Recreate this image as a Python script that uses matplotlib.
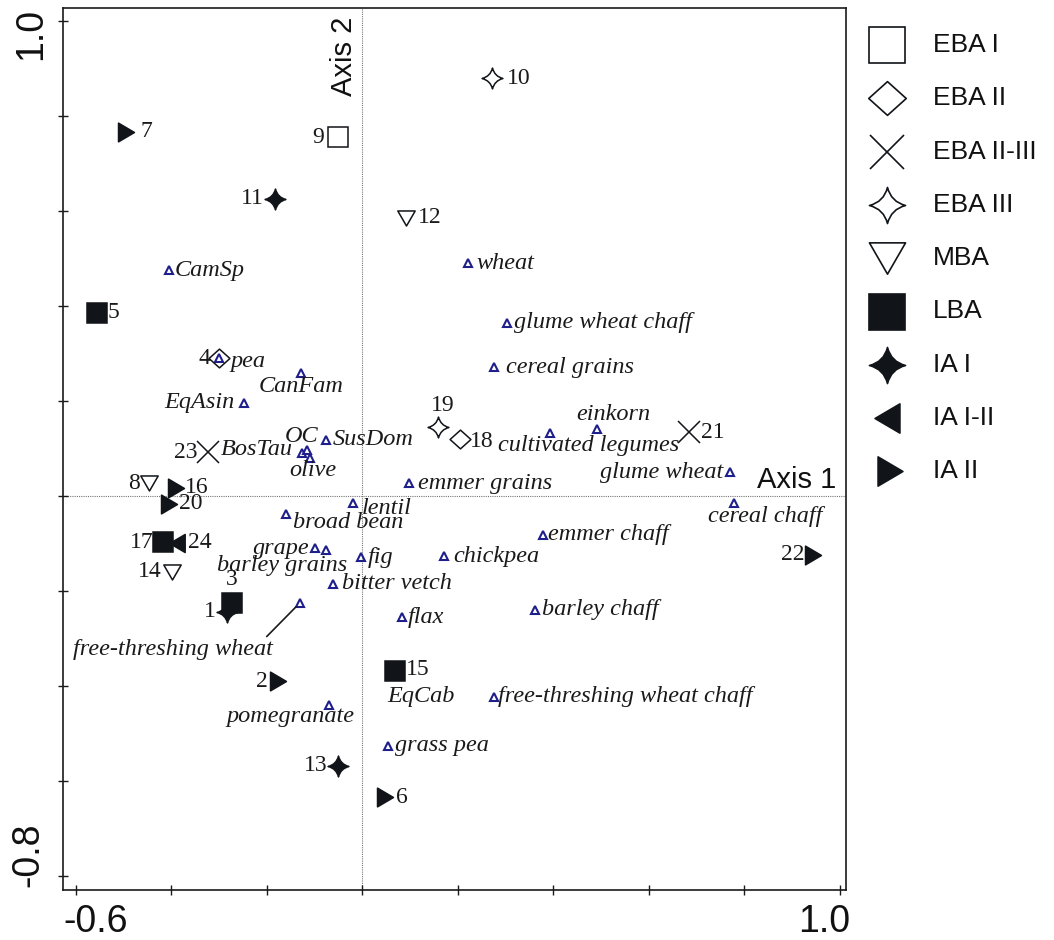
import numpy as np
import matplotlib
matplotlib.use("Agg")
import matplotlib.pyplot as plt
from matplotlib.path import Path

# ---------------- data ----------------
site_ids = [str(i) for i in range(1, 25)]
site_x = [-0.284, -0.177, -0.273, -0.300, -0.556, 0.047, -0.495, -0.447, -0.051, 0.271,
          -0.183, 0.091, -0.051, -0.399, 0.068, -0.391, -0.418, 0.204, 0.158, -0.405,
          0.684, 0.943, -0.324, -0.388]
site_y = [-0.244, -0.390, -0.225, 0.290, 0.385, -0.634, 0.766, 0.027, 0.755, 0.879,
          0.625, 0.585, -0.568, -0.160, -0.368, 0.017, -0.097, 0.120, 0.145, -0.017,
          0.134, -0.124, 0.092, -0.099]
site_period = ["IA I", "IA II", "LBA", "EBA II", "LBA", "IA II", "IA II", "MBA", "EBA I", "EBA III",
               "IA I", "MBA", "IA I", "MBA", "LBA", "IA II", "LBA", "EBA II", "EBA III", "IA II",
               "EBA II-III", "IA II", "EBA II-III", "IA I-II"]

periods = ["EBA I", "EBA II", "EBA II-III", "EBA III", "MBA", "LBA", "IA I", "IA I-II", "IA II"]

species = ["CamSp", "pea", "CanFam", "EqAsin", "SusDom", "BosTau", "OC", "olive", "wheat",
           "glume wheat chaff", "cereal grains", "cultivated legumes", "einkorn", "emmer grains",
           "glume wheat", "lentil", "cereal chaff", "broad bean", "emmer chaff", "grape",
           "barley grains", "fig", "chickpea", "bitter vetch", "flax", "barley chaff",
           "free-threshing wheat", "EqCab", "pomegranate", "free-threshing wheat chaff", "grass pea"]
species_x = [-0.405, -0.300, -0.129, -0.248, -0.076, -0.127, -0.116, -0.110, 0.221,
             0.303, 0.275, 0.393, 0.491, 0.097,
             0.770, -0.020, 0.778, -0.160, 0.378, -0.100,
             -0.076, -0.003, 0.171, -0.062, 0.083, 0.361,
             -0.131, 0.068, -0.070, 0.275, 0.053]
species_y = [0.475, 0.290, 0.259, 0.196, 0.118, 0.090, 0.097, 0.080, 0.490,
             0.364, 0.271, 0.132, 0.141, 0.027,
             0.050, -0.015, -0.015, -0.038, -0.082, -0.110,
             -0.114, -0.129, -0.127, -0.185, -0.255, -0.240,
             -0.225, -0.368, -0.440, -0.423, -0.526]

x_tick_values = [-0.6, -0.4, -0.2, 0.0, 0.2, 0.4, 0.6, 0.8, 1.0]
y_tick_values = [-0.8, -0.6, -0.4, -0.2, 0.0, 0.2, 0.4, 0.6, 0.8, 1.0]
x_end_labels = ["-0.6", "1.0"]
y_end_labels = ["-0.8", "1.0"]

# ---------------- styles / layout ----------------
DARK = "#111418"
NAVY = "#1f1f8c"
SERIF = ["Liberation Serif", "DejaVu Serif"]
SANS = ["Liberation Sans", "DejaVu Sans"]
DPI = 100


def star_path(c=0.2):
    v = [(0, 1), (c, c), (1, 0), (c, -c), (0, -1), (-c, -c), (-1, 0), (-c, c), (0, 1), (0, 1)]
    codes = [Path.MOVETO] + [Path.CURVE3] * 8 + [Path.CLOSEPOLY]
    return Path(v, codes)


STAR = star_path()
TRI_DOWN = Path([(-1, 0.866), (1, 0.866), (0, -0.866), (-1, 0.866)], closed=True)
TRI_RIGHT = Path([(-0.85, -1), (-0.85, 1), (0.85, 0), (-0.85, -1)], closed=True)
TRI_LEFT = Path([(0.85, -1), (0.85, 1), (-0.85, 0), (0.85, -1)], closed=True)
DIAMOND = Path([(0, 0.9), (1, 0), (0, -0.9), (-1, 0), (0, 0.9)], closed=True)

# marker, filled, plot size, legend size
style = {
    "EBA I": ("s", False, 14.0, 26),
    "EBA II": (DIAMOND, False, 15.0, 27),
    "EBA II-III": ("x", False, 15.5, 25),
    "EBA III": (STAR, False, 15.0, 26),
    "MBA": (TRI_DOWN, False, 12.5, 26),
    "LBA": ("s", True, 15.0, 26),
    "IA I": (STAR, True, 15.0, 26),
    "IA I-II": (TRI_LEFT, True, 13.0, 21),
    "IA II": (TRI_RIGHT, True, 13.5, 21),
}

# site number label offsets in pixels (dx, dy up)
site_lab_off = {
    "1": (-17, 0), "2": (-16, 0), "3": (0, 23), "4": (-15, 0), "5": (16, 0), "6": (17, 0),
    "7": (20, 0), "8": (-15, 0), "9": (-20, 0), "10": (27, 0), "11": (-23, 0), "12": (24, 0),
    "13": (-22, 0), "14": (-22, 0), "15": (23, 1), "16": (21, 0), "17": (-21, 0), "18": (22, -3),
    "19": (5, 22), "20": (22, 0), "21": (24, 0), "22": (-20, 0), "23": (-22, 0), "24": (23, 0),
}

# species label placement: (dx, dy up) in pixels, ha
sp_lab = {
    "CamSp": (6, 0, "left"), "pea": (11, -3, "left"), "CanFam": (0, -14, "center"),
    "EqAsin": (-10, 0, "right"), "SusDom": (7, 0, "left"), "BosTau": (-9, 4, "right"),
    "OC": (-6, 13, "center"), "olive": (3, -13, "center"), "wheat": (8, 0, "left"),
    "glume wheat chaff": (7, 0, "left"), "cereal grains": (12, 0, "left"),
    "cultivated legumes": (38, -12, "center"), "einkorn": (16, 14, "center"),
    "emmer grains": (9, 0, "left"), "glume wheat": (-7, 0, "right"), "lentil": (9, -5, "left"),
    "cereal chaff": (31, -13, "center"), "broad bean": (7, -9, "left"), "emmer chaff": (5, 0, "left"),
    "grape": (-5, 0, "right"), "barley grains": (-44, -15, "center"), "fig": (7, 0, "left"),
    "chickpea": (9, 0, "left"), "bitter vetch": (9, 0, "left"), "flax": (6, 0, "left"),
    "barley chaff": (7, 0, "left"), "free-threshing wheat": (-127, -47, "center"),
    "EqCab": (-8, -26, "left"), "pomegranate": (-39, -11, "center"),
    "free-threshing wheat chaff": (4, 0, "left"), "grass pea": (7, 0, "left"),
}

px2pt = 72.0 / DPI

fig = plt.figure(figsize=(10.54, 9.40), dpi=DPI)
fig.patch.set_facecolor("white")
ax = fig.add_axes([63 / 1054, 50 / 940, 783 / 1054, 881.7 / 940])
ax.set_xlim(-0.6272, 1.0126)
ax.set_ylim(-0.8293, 1.0261)

for s in ax.spines.values():
    s.set_linewidth(1.2)
    s.set_color("#1a1a1a")
ax.set_xticks(x_tick_values)
ax.set_yticks(y_tick_values)
ax.set_xticklabels([])
ax.set_yticklabels([])
ax.tick_params(direction="inout", length=7, width=1.0, color="#1a1a1a")

# dotted origin lines
ax.axhline(0, color="#777777", lw=0.8, ls=(0, (1, 1)), zorder=1)
ax.axvline(0, color="#777777", lw=0.8, ls=(0, (1, 1)), zorder=1)

# species points
ax.plot(species_x, species_y, ls="none", marker="^", ms=6, mfc="none", mec=NAVY, mew=1.5, zorder=3)
for name, x, y in zip(species, species_x, species_y):
    dx, dy, ha = sp_lab[name]
    kw = dict(xy=(x, y), xytext=(dx * px2pt, dy * px2pt), textcoords="offset points",
              ha=ha, va="center", fontsize=17.5, style="italic", family=SERIF, color="#1a1a1a",
              zorder=5)
    if name == "free-threshing wheat":
        kw["arrowprops"] = dict(arrowstyle="-", color="#1a1a1a", lw=1.2, relpos=(0.94, 0.85),
                                shrinkA=0, shrinkB=4)
    ax.annotate(name, **kw)

# site points
for sid, x, y, per in zip(site_ids, site_x, site_y, site_period):
    m, filled, ms, _ = style[per]
    ax.plot([x], [y], ls="none", marker=m, ms=ms,
            mfc=DARK if filled else "none", mec=DARK, mew=1.1, zorder=4)
    dx, dy = site_lab_off[sid]
    ax.annotate(sid, xy=(x, y), xytext=(dx * px2pt, dy * px2pt), textcoords="offset points",
                ha="center", va="center", fontsize=17, family=SERIF, color="#1a1a1a", zorder=5)

# axis names
ax.text(-0.039, 0.926, "Axis 2", rotation=90, ha="center", va="center", fontsize=21,
        family=SANS, color="#111111")
ax.text(0.910, 0.033, "Axis 1", ha="center", va="center", fontsize=21, family=SANS, color="#111111")

# end tick labels
ax.text(0.0421, -0.036, x_end_labels[0], transform=ax.transAxes, ha="center", va="center",
        fontsize=27, family=SANS, color="#111111")
ax.text(0.972, -0.036, x_end_labels[1], transform=ax.transAxes, ha="center", va="center",
        fontsize=27, family=SANS, color="#111111")
ax.text(-0.0447, 0.0397, y_end_labels[0], transform=ax.transAxes, ha="center", va="center",
        rotation=90, fontsize=27, family=SANS, color="#111111")
ax.text(-0.0409, 0.971, y_end_labels[1], transform=ax.transAxes, ha="center", va="center",
        rotation=90, fontsize=27, family=SANS, color="#111111")

# legend (manual)
lax = fig.add_axes([850 / 1054, 0, 204 / 1054, 1])
lax.set_xlim(0, 204)
lax.set_ylim(940, 0)
lax.axis("off")
for i, per in enumerate(periods):
    m, filled, _, lms = style[per]
    yy = 45 + i * 53.3
    xx = 40 if per == "IA II" else 37
    lax.plot([xx], [yy], ls="none", marker=m, ms=lms, mfc=DARK if filled else "none",
             mec=DARK, mew=1.2)
    lax.text(83, yy, per, ha="left", va="center", fontsize=19, family=SANS, color="#111111")

fig.savefig("out.png", dpi=DPI, facecolor="white")
